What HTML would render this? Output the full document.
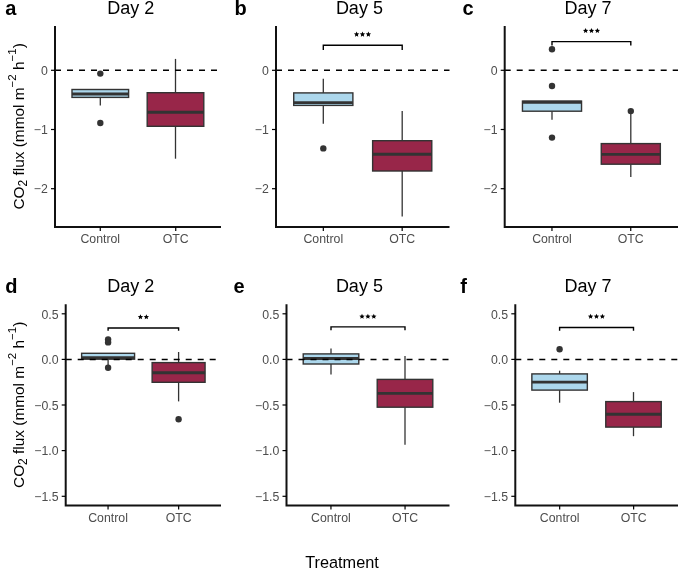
<!DOCTYPE html><html><head><meta charset="utf-8"><style>html,body{margin:0;padding:0;background:#fff;}svg{display:block;will-change:transform;}text{font-family:"Liberation Sans", sans-serif;}</style></head><body>
<svg width="685" height="568" viewBox="0 0 685 568">
<rect width="685" height="568" fill="#fff"/>
<line x1="100.3" y1="97.4" x2="100.3" y2="105.5" stroke="#333333" stroke-width="1.3"/>
<rect x="72.00" y="89.5" width="56.59" height="7.90" fill="#acd7ec" stroke="#333333" stroke-width="1.4"/>
<line x1="72.00" y1="94.0" x2="128.60" y2="94.0" stroke="#333333" stroke-width="2.9"/>
<circle cx="100.3" cy="73.6" r="3.2" fill="#333333"/>
<circle cx="100.3" cy="123.0" r="3.2" fill="#333333"/>
<line x1="175.5" y1="58.9" x2="175.5" y2="92.7" stroke="#333333" stroke-width="1.3"/>
<line x1="175.5" y1="126.3" x2="175.5" y2="158.7" stroke="#333333" stroke-width="1.3"/>
<rect x="147.20" y="92.7" width="56.59" height="33.60" fill="#982649" stroke="#333333" stroke-width="1.4"/>
<line x1="147.20" y1="112.3" x2="203.80" y2="112.3" stroke="#333333" stroke-width="2.9"/>
<line x1="55" y1="70.3" x2="221" y2="70.3" stroke="#000" stroke-width="1.5" stroke-dasharray="6 6"/>
<path d="M55 26 V227 H221" fill="none" stroke="#111" stroke-width="2" stroke-linecap="butt" stroke-linejoin="miter"/>
<line x1="51" y1="70.3" x2="55" y2="70.3" stroke="#000" stroke-width="1.2"/>
<text x="47.8" y="75.0" font-size="12.3" text-anchor="end" fill="#4d4d4d">0</text>
<line x1="51" y1="129.5" x2="55" y2="129.5" stroke="#000" stroke-width="1.2"/>
<text x="47.8" y="134.2" font-size="12.3" text-anchor="end" fill="#4d4d4d">−1</text>
<line x1="51" y1="188.7" x2="55" y2="188.7" stroke="#000" stroke-width="1.2"/>
<text x="47.8" y="193.4" font-size="12.3" text-anchor="end" fill="#4d4d4d">−2</text>
<line x1="100.27" y1="227" x2="100.27" y2="231" stroke="#000" stroke-width="1.2"/>
<text x="100.27" y="243.2" font-size="12.3" text-anchor="middle" fill="#4d4d4d">Control</text>
<line x1="175.73" y1="227" x2="175.73" y2="231" stroke="#000" stroke-width="1.2"/>
<text x="175.73" y="243.2" font-size="12.3" text-anchor="middle" fill="#4d4d4d">OTC</text>
<text x="130.7" y="13.9" font-size="18" text-anchor="middle" fill="#000">Day 2</text>
<text x="5.2" y="14.9" font-size="20" font-weight="bold" fill="#000">a</text>
<line x1="323.3" y1="78.8" x2="323.3" y2="92.9" stroke="#333333" stroke-width="1.3"/>
<line x1="323.3" y1="105.4" x2="323.3" y2="123.7" stroke="#333333" stroke-width="1.3"/>
<rect x="293.73" y="92.9" width="59.15" height="12.50" fill="#acd7ec" stroke="#333333" stroke-width="1.4"/>
<line x1="293.73" y1="102.6" x2="352.87" y2="102.6" stroke="#333333" stroke-width="2.9"/>
<circle cx="323.3" cy="148.4" r="3.2" fill="#333333"/>
<line x1="402.2" y1="111.0" x2="402.2" y2="140.7" stroke="#333333" stroke-width="1.3"/>
<line x1="402.2" y1="171.0" x2="402.2" y2="216.5" stroke="#333333" stroke-width="1.3"/>
<rect x="372.63" y="140.7" width="59.15" height="30.30" fill="#982649" stroke="#333333" stroke-width="1.4"/>
<line x1="372.63" y1="154.3" x2="431.77" y2="154.3" stroke="#333333" stroke-width="2.9"/>
<line x1="276" y1="70.3" x2="449.5" y2="70.3" stroke="#000" stroke-width="1.5" stroke-dasharray="6 6"/>
<path d="M323.3 49.9 V45.3 H402.2 V49.9" fill="none" stroke="#000" stroke-width="1.4"/>
<polygon points="356.60,31.60 357.36,33.35 359.26,33.53 357.84,34.80 358.25,36.67 356.60,35.70 354.95,36.67 355.36,34.80 353.94,33.53 355.84,33.35" fill="#000"/>
<polygon points="362.50,31.60 363.26,33.35 365.16,33.53 363.74,34.80 364.15,36.67 362.50,35.70 360.85,36.67 361.26,34.80 359.84,33.53 361.74,33.35" fill="#000"/>
<polygon points="368.40,31.60 369.16,33.35 371.06,33.53 369.64,34.80 370.05,36.67 368.40,35.70 366.75,36.67 367.16,34.80 365.74,33.53 367.64,33.35" fill="#000"/>
<path d="M276 26 V227 H449.5" fill="none" stroke="#111" stroke-width="2" stroke-linecap="butt" stroke-linejoin="miter"/>
<line x1="272" y1="70.3" x2="276" y2="70.3" stroke="#000" stroke-width="1.2"/>
<text x="268.8" y="75.0" font-size="12.3" text-anchor="end" fill="#4d4d4d">0</text>
<line x1="272" y1="129.5" x2="276" y2="129.5" stroke="#000" stroke-width="1.2"/>
<text x="268.8" y="134.2" font-size="12.3" text-anchor="end" fill="#4d4d4d">−1</text>
<line x1="272" y1="188.7" x2="276" y2="188.7" stroke="#000" stroke-width="1.2"/>
<text x="268.8" y="193.4" font-size="12.3" text-anchor="end" fill="#4d4d4d">−2</text>
<line x1="323.32" y1="227" x2="323.32" y2="231" stroke="#000" stroke-width="1.2"/>
<text x="323.32" y="243.2" font-size="12.3" text-anchor="middle" fill="#4d4d4d">Control</text>
<line x1="402.18" y1="227" x2="402.18" y2="231" stroke="#000" stroke-width="1.2"/>
<text x="402.18" y="243.2" font-size="12.3" text-anchor="middle" fill="#4d4d4d">OTC</text>
<text x="359.4" y="13.9" font-size="18" text-anchor="middle" fill="#000">Day 5</text>
<text x="234.6" y="14.6" font-size="20" font-weight="bold" fill="#000">b</text>
<line x1="552.0" y1="111.2" x2="552.0" y2="119.8" stroke="#333333" stroke-width="1.3"/>
<rect x="522.46" y="101.1" width="59.08" height="10.10" fill="#acd7ec" stroke="#333333" stroke-width="1.4"/>
<line x1="522.46" y1="102.2" x2="581.54" y2="102.2" stroke="#333333" stroke-width="2.9"/>
<circle cx="552.0" cy="49.2" r="3.2" fill="#333333"/>
<circle cx="552.0" cy="86.0" r="3.2" fill="#333333"/>
<circle cx="552.0" cy="137.6" r="3.2" fill="#333333"/>
<line x1="630.8" y1="111.1" x2="630.8" y2="143.6" stroke="#333333" stroke-width="1.3"/>
<line x1="630.8" y1="164.2" x2="630.8" y2="176.9" stroke="#333333" stroke-width="1.3"/>
<rect x="601.26" y="143.6" width="59.08" height="20.60" fill="#982649" stroke="#333333" stroke-width="1.4"/>
<line x1="601.26" y1="154.4" x2="660.34" y2="154.4" stroke="#333333" stroke-width="2.9"/>
<circle cx="630.8" cy="111.1" r="3.2" fill="#333333"/>
<line x1="504.7" y1="70.3" x2="678" y2="70.3" stroke="#000" stroke-width="1.5" stroke-dasharray="6 6"/>
<path d="M552.0 45.6 V41.6 H630.8 V45.6" fill="none" stroke="#000" stroke-width="1.4"/>
<polygon points="585.60,28.00 586.36,29.75 588.26,29.93 586.84,31.20 587.25,33.07 585.60,32.10 583.95,33.07 584.36,31.20 582.94,29.93 584.84,29.75" fill="#000"/>
<polygon points="591.50,28.00 592.26,29.75 594.16,29.93 592.74,31.20 593.15,33.07 591.50,32.10 589.85,33.07 590.26,31.20 588.84,29.93 590.74,29.75" fill="#000"/>
<polygon points="597.40,28.00 598.16,29.75 600.06,29.93 598.64,31.20 599.05,33.07 597.40,32.10 595.75,33.07 596.16,31.20 594.74,29.93 596.64,29.75" fill="#000"/>
<path d="M504.7 26 V227 H678" fill="none" stroke="#111" stroke-width="2" stroke-linecap="butt" stroke-linejoin="miter"/>
<line x1="500.7" y1="70.3" x2="504.7" y2="70.3" stroke="#000" stroke-width="1.2"/>
<text x="497.5" y="75.0" font-size="12.3" text-anchor="end" fill="#4d4d4d">0</text>
<line x1="500.7" y1="129.5" x2="504.7" y2="129.5" stroke="#000" stroke-width="1.2"/>
<text x="497.5" y="134.2" font-size="12.3" text-anchor="end" fill="#4d4d4d">−1</text>
<line x1="500.7" y1="188.7" x2="504.7" y2="188.7" stroke="#000" stroke-width="1.2"/>
<text x="497.5" y="193.4" font-size="12.3" text-anchor="end" fill="#4d4d4d">−2</text>
<line x1="551.96" y1="227" x2="551.96" y2="231" stroke="#000" stroke-width="1.2"/>
<text x="551.96" y="243.2" font-size="12.3" text-anchor="middle" fill="#4d4d4d">Control</text>
<line x1="630.74" y1="227" x2="630.74" y2="231" stroke="#000" stroke-width="1.2"/>
<text x="630.74" y="243.2" font-size="12.3" text-anchor="middle" fill="#4d4d4d">OTC</text>
<text x="588" y="13.9" font-size="18" text-anchor="middle" fill="#000">Day 7</text>
<text x="462.6" y="14.8" font-size="20" font-weight="bold" fill="#000">c</text>
<line x1="108.1" y1="359.2" x2="108.1" y2="367.8" stroke="#333333" stroke-width="1.3"/>
<rect x="81.63" y="353.3" width="52.94" height="5.90" fill="#acd7ec" stroke="#333333" stroke-width="1.4"/>
<line x1="81.63" y1="357.6" x2="134.57" y2="357.6" stroke="#333333" stroke-width="2.9"/>
<circle cx="108.1" cy="339.5" r="3.2" fill="#333333"/>
<circle cx="108.1" cy="342.4" r="3.2" fill="#333333"/>
<circle cx="108.1" cy="367.8" r="3.2" fill="#333333"/>
<line x1="178.6" y1="352.0" x2="178.6" y2="362.6" stroke="#333333" stroke-width="1.3"/>
<line x1="178.6" y1="382.3" x2="178.6" y2="401.4" stroke="#333333" stroke-width="1.3"/>
<rect x="152.13" y="362.6" width="52.94" height="19.70" fill="#982649" stroke="#333333" stroke-width="1.4"/>
<line x1="152.13" y1="372.7" x2="205.07" y2="372.7" stroke="#333333" stroke-width="2.9"/>
<circle cx="178.6" cy="419.3" r="3.2" fill="#333333"/>
<line x1="65.7" y1="359.4" x2="221" y2="359.4" stroke="#000" stroke-width="1.5" stroke-dasharray="6 6"/>
<path d="M108.1 330.8 V328.0 H178.6 V330.8" fill="none" stroke="#000" stroke-width="1.4"/>
<polygon points="140.45,314.20 141.21,315.95 143.11,316.13 141.69,317.40 142.10,319.27 140.45,318.30 138.80,319.27 139.21,317.40 137.79,316.13 139.69,315.95" fill="#000"/>
<polygon points="146.35,314.20 147.11,315.95 149.01,316.13 147.59,317.40 148.00,319.27 146.35,318.30 144.70,319.27 145.11,317.40 143.69,316.13 145.59,315.95" fill="#000"/>
<path d="M65.7 304.2 V505.6 H221" fill="none" stroke="#111" stroke-width="2" stroke-linecap="butt" stroke-linejoin="miter"/>
<line x1="61.7" y1="313.8" x2="65.7" y2="313.8" stroke="#000" stroke-width="1.2"/>
<text x="58.5" y="318.5" font-size="12.3" text-anchor="end" fill="#4d4d4d">0.5</text>
<line x1="61.7" y1="359.4" x2="65.7" y2="359.4" stroke="#000" stroke-width="1.2"/>
<text x="58.5" y="364.1" font-size="12.3" text-anchor="end" fill="#4d4d4d">0.0</text>
<line x1="61.7" y1="405.0" x2="65.7" y2="405.0" stroke="#000" stroke-width="1.2"/>
<text x="58.5" y="409.7" font-size="12.3" text-anchor="end" fill="#4d4d4d">−0.5</text>
<line x1="61.7" y1="450.6" x2="65.7" y2="450.6" stroke="#000" stroke-width="1.2"/>
<text x="58.5" y="455.3" font-size="12.3" text-anchor="end" fill="#4d4d4d">−1.0</text>
<line x1="61.7" y1="496.3" x2="65.7" y2="496.3" stroke="#000" stroke-width="1.2"/>
<text x="58.5" y="501.0" font-size="12.3" text-anchor="end" fill="#4d4d4d">−1.5</text>
<line x1="108.05" y1="505.6" x2="108.05" y2="509.6" stroke="#000" stroke-width="1.2"/>
<text x="108.05" y="521.8" font-size="12.3" text-anchor="middle" fill="#4d4d4d">Control</text>
<line x1="178.65" y1="505.6" x2="178.65" y2="509.6" stroke="#000" stroke-width="1.2"/>
<text x="178.65" y="521.8" font-size="12.3" text-anchor="middle" fill="#4d4d4d">OTC</text>
<text x="130.8" y="292.3" font-size="18" text-anchor="middle" fill="#000">Day 2</text>
<text x="5.2" y="293.3" font-size="20" font-weight="bold" fill="#000">d</text>
<line x1="331.0" y1="348.5" x2="331.0" y2="353.9" stroke="#333333" stroke-width="1.3"/>
<line x1="331.0" y1="364.0" x2="331.0" y2="374.5" stroke="#333333" stroke-width="1.3"/>
<rect x="303.22" y="353.9" width="55.57" height="10.10" fill="#acd7ec" stroke="#333333" stroke-width="1.4"/>
<line x1="303.22" y1="358.5" x2="358.78" y2="358.5" stroke="#333333" stroke-width="2.9"/>
<line x1="405.0" y1="355.9" x2="405.0" y2="379.4" stroke="#333333" stroke-width="1.3"/>
<line x1="405.0" y1="407.2" x2="405.0" y2="444.7" stroke="#333333" stroke-width="1.3"/>
<rect x="377.22" y="379.4" width="55.57" height="27.80" fill="#982649" stroke="#333333" stroke-width="1.4"/>
<line x1="377.22" y1="393.4" x2="432.78" y2="393.4" stroke="#333333" stroke-width="2.9"/>
<line x1="286.5" y1="359.4" x2="449.5" y2="359.4" stroke="#000" stroke-width="1.5" stroke-dasharray="6 6"/>
<path d="M331.0 330.3 V326.9 H405.0 V330.3" fill="none" stroke="#000" stroke-width="1.4"/>
<polygon points="362.00,313.70 362.76,315.45 364.66,315.63 363.24,316.90 363.65,318.77 362.00,317.80 360.35,318.77 360.76,316.90 359.34,315.63 361.24,315.45" fill="#000"/>
<polygon points="367.90,313.70 368.66,315.45 370.56,315.63 369.14,316.90 369.55,318.77 367.90,317.80 366.25,318.77 366.66,316.90 365.24,315.63 367.14,315.45" fill="#000"/>
<polygon points="373.80,313.70 374.56,315.45 376.46,315.63 375.04,316.90 375.45,318.77 373.80,317.80 372.15,318.77 372.56,316.90 371.14,315.63 373.04,315.45" fill="#000"/>
<path d="M286.5 304.2 V505.6 H449.5" fill="none" stroke="#111" stroke-width="2" stroke-linecap="butt" stroke-linejoin="miter"/>
<line x1="282.5" y1="313.8" x2="286.5" y2="313.8" stroke="#000" stroke-width="1.2"/>
<text x="279.3" y="318.5" font-size="12.3" text-anchor="end" fill="#4d4d4d">0.5</text>
<line x1="282.5" y1="359.4" x2="286.5" y2="359.4" stroke="#000" stroke-width="1.2"/>
<text x="279.3" y="364.1" font-size="12.3" text-anchor="end" fill="#4d4d4d">0.0</text>
<line x1="282.5" y1="405.0" x2="286.5" y2="405.0" stroke="#000" stroke-width="1.2"/>
<text x="279.3" y="409.7" font-size="12.3" text-anchor="end" fill="#4d4d4d">−0.5</text>
<line x1="282.5" y1="450.6" x2="286.5" y2="450.6" stroke="#000" stroke-width="1.2"/>
<text x="279.3" y="455.3" font-size="12.3" text-anchor="end" fill="#4d4d4d">−1.0</text>
<line x1="282.5" y1="496.3" x2="286.5" y2="496.3" stroke="#000" stroke-width="1.2"/>
<text x="279.3" y="501.0" font-size="12.3" text-anchor="end" fill="#4d4d4d">−1.5</text>
<line x1="330.95" y1="505.6" x2="330.95" y2="509.6" stroke="#000" stroke-width="1.2"/>
<text x="330.95" y="521.8" font-size="12.3" text-anchor="middle" fill="#4d4d4d">Control</text>
<line x1="405.05" y1="505.6" x2="405.05" y2="509.6" stroke="#000" stroke-width="1.2"/>
<text x="405.05" y="521.8" font-size="12.3" text-anchor="middle" fill="#4d4d4d">OTC</text>
<text x="359.4" y="292.3" font-size="18" text-anchor="middle" fill="#000">Day 5</text>
<text x="233.4" y="293.2" font-size="20" font-weight="bold" fill="#000">e</text>
<line x1="559.6" y1="370.7" x2="559.6" y2="373.9" stroke="#333333" stroke-width="1.3"/>
<line x1="559.6" y1="390.1" x2="559.6" y2="402.7" stroke="#333333" stroke-width="1.3"/>
<rect x="531.87" y="373.9" width="55.47" height="16.20" fill="#acd7ec" stroke="#333333" stroke-width="1.4"/>
<line x1="531.87" y1="382.1" x2="587.33" y2="382.1" stroke="#333333" stroke-width="2.9"/>
<circle cx="559.6" cy="349.3" r="3.2" fill="#333333"/>
<line x1="633.5" y1="392.1" x2="633.5" y2="401.6" stroke="#333333" stroke-width="1.3"/>
<line x1="633.5" y1="427.1" x2="633.5" y2="436.2" stroke="#333333" stroke-width="1.3"/>
<rect x="605.77" y="401.6" width="55.47" height="25.50" fill="#982649" stroke="#333333" stroke-width="1.4"/>
<line x1="605.77" y1="414.3" x2="661.23" y2="414.3" stroke="#333333" stroke-width="2.9"/>
<line x1="515.3" y1="359.4" x2="678" y2="359.4" stroke="#000" stroke-width="1.5" stroke-dasharray="6 6"/>
<path d="M559.6 330.8 V327.5 H633.5 V330.8" fill="none" stroke="#000" stroke-width="1.4"/>
<polygon points="590.60,313.70 591.36,315.45 593.26,315.63 591.84,316.90 592.25,318.77 590.60,317.80 588.95,318.77 589.36,316.90 587.94,315.63 589.84,315.45" fill="#000"/>
<polygon points="596.50,313.70 597.26,315.45 599.16,315.63 597.74,316.90 598.15,318.77 596.50,317.80 594.85,318.77 595.26,316.90 593.84,315.63 595.74,315.45" fill="#000"/>
<polygon points="602.40,313.70 603.16,315.45 605.06,315.63 603.64,316.90 604.05,318.77 602.40,317.80 600.75,318.77 601.16,316.90 599.74,315.63 601.64,315.45" fill="#000"/>
<path d="M515.3 304.2 V505.6 H678" fill="none" stroke="#111" stroke-width="2" stroke-linecap="butt" stroke-linejoin="miter"/>
<line x1="511.29999999999995" y1="313.8" x2="515.3" y2="313.8" stroke="#000" stroke-width="1.2"/>
<text x="508.09999999999997" y="318.5" font-size="12.3" text-anchor="end" fill="#4d4d4d">0.5</text>
<line x1="511.29999999999995" y1="359.4" x2="515.3" y2="359.4" stroke="#000" stroke-width="1.2"/>
<text x="508.09999999999997" y="364.1" font-size="12.3" text-anchor="end" fill="#4d4d4d">0.0</text>
<line x1="511.29999999999995" y1="405.0" x2="515.3" y2="405.0" stroke="#000" stroke-width="1.2"/>
<text x="508.09999999999997" y="409.7" font-size="12.3" text-anchor="end" fill="#4d4d4d">−0.5</text>
<line x1="511.29999999999995" y1="450.6" x2="515.3" y2="450.6" stroke="#000" stroke-width="1.2"/>
<text x="508.09999999999997" y="455.3" font-size="12.3" text-anchor="end" fill="#4d4d4d">−1.0</text>
<line x1="511.29999999999995" y1="496.3" x2="515.3" y2="496.3" stroke="#000" stroke-width="1.2"/>
<text x="508.09999999999997" y="501.0" font-size="12.3" text-anchor="end" fill="#4d4d4d">−1.5</text>
<line x1="559.67" y1="505.6" x2="559.67" y2="509.6" stroke="#000" stroke-width="1.2"/>
<text x="559.67" y="521.8" font-size="12.3" text-anchor="middle" fill="#4d4d4d">Control</text>
<line x1="633.63" y1="505.6" x2="633.63" y2="509.6" stroke="#000" stroke-width="1.2"/>
<text x="633.63" y="521.8" font-size="12.3" text-anchor="middle" fill="#4d4d4d">OTC</text>
<text x="588" y="292.3" font-size="18" text-anchor="middle" fill="#000">Day 7</text>
<text x="460.2" y="293.2" font-size="20" font-weight="bold" fill="#000">f</text>
<text transform="translate(24,126.4) rotate(-90)" font-size="15.4" text-anchor="middle" fill="#000">CO<tspan font-size="12" dy="3">2</tspan><tspan dy="-3"> flux (mmol m</tspan><tspan font-size="11.5" dy="-8">−2</tspan><tspan dy="8"> h</tspan><tspan font-size="11.5" dy="-8">−1</tspan><tspan dy="8">)</tspan></text>
<text transform="translate(24,404.79999999999995) rotate(-90)" font-size="15.4" text-anchor="middle" fill="#000">CO<tspan font-size="12" dy="3">2</tspan><tspan dy="-3"> flux (mmol m</tspan><tspan font-size="11.5" dy="-8">−2</tspan><tspan dy="8"> h</tspan><tspan font-size="11.5" dy="-8">−1</tspan><tspan dy="8">)</tspan></text>
<text x="342.0" y="567.6" font-size="16.3" text-anchor="middle" fill="#000">Treatment</text>
</svg></body></html>
